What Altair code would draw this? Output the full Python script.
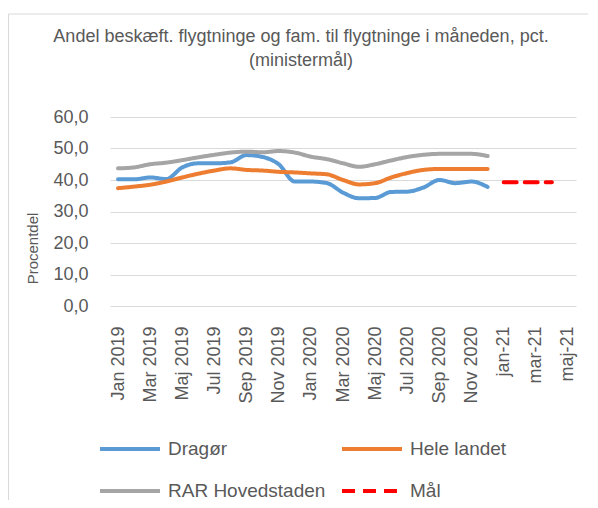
import altair as alt
import pandas as pd

months = ["Jan 2019", "Feb 2019", "Mar 2019", "Apr 2019", "Maj 2019", "Jun 2019",
          "Jul 2019", "Aug 2019", "Sep 2019", "Okt 2019", "Nov 2019", "Dec 2019",
          "Jan 2020", "Feb 2020", "Mar 2020", "Apr 2020", "Maj 2020", "Jun 2020",
          "Jul 2020", "Aug 2020", "Sep 2020", "Okt 2020", "Nov 2020", "Dec 2020",
          "jan-21", "feb-21", "mar-21", "apr-21", "maj-21"]
tick_labels = ["Jan 2019", "Mar 2019", "Maj 2019", "Jul 2019", "Sep 2019", "Nov 2019",
               "Jan 2020", "Mar 2020", "Maj 2020", "Jul 2020", "Sep 2020", "Nov 2020",
               "jan-21", "mar-21", "maj-21"]

dragor = [40.2, 40.2, 40.8, 40.3, 44.0, 45.3, 45.3, 45.6, 47.9, 47.3, 45.0, 39.5,
          39.5, 39.0, 36.0, 34.2, 34.3, 36.2, 36.3, 37.6, 40.0, 39.0, 39.5, 37.8]
hele_landet = [37.4, 37.9, 38.5, 39.5, 40.8, 42.0, 43.0, 43.7, 43.2, 43.0, 42.6, 42.4,
               42.1, 41.8, 40.0, 38.6, 39.0, 40.8, 42.2, 43.2, 43.5, 43.5, 43.5, 43.5]
rar_hovedstaden = [43.7, 44.0, 45.0, 45.5, 46.3, 47.2, 48.0, 48.7, 49.0, 48.8, 49.2, 48.7,
                   47.4, 46.6, 45.3, 44.2, 45.0, 46.2, 47.3, 48.0, 48.3, 48.3, 48.3, 47.6]
maal_months = ["jan-21", "feb-21", "mar-21", "apr-21"]
maal = [39.3, 39.3, 39.3, 39.3]

series_names = ["Dragør", "Hele landet", "RAR Hovedstaden", "Mål"]
series_colors = ["#5B9BD5", "#ED7D31", "#A5A5A5", "#FF0000"]
series_dash = [[1, 0], [1, 0], [1, 0], [13, 8]]

rows = []
for name, vals in [("Dragør", dragor), ("Hele landet", hele_landet),
                   ("RAR Hovedstaden", rar_hovedstaden)]:
    for m, v in zip(months[:24], vals):
        rows.append({"serie": name, "maaned": m, "pct": v})
for m, v in zip(maal_months, maal):
    rows.append({"serie": "Mål", "maaned": m, "pct": v})
df = pd.DataFrame(rows)

FONT = "Liberation Sans"
GREY = "#595959"

legend_opts = dict(title=None, orient="none", legendX=-12, legendY=300,
                   direction="horizontal", columns=2, columnPadding=8, rowPadding=-23,
                   symbolType="stroke", symbolSize=3600, symbolStrokeWidth=4,
                   labelFont=FONT, labelFontSize=19, labelColor=GREY, labelOffset=6)

lines = alt.Chart(df).mark_line(strokeWidth=4, interpolate="monotone",
                                strokeCap="round").encode(
    x=alt.X("maaned:O", sort=months,
            scale=alt.Scale(domain=months, type="point", padding=0.5),
            axis=alt.Axis(title=None, values=tick_labels, labelAngle=-90,
                          labelAlign="right", labelBaseline="middle",
                          ticks=False, domain=False, grid=False,
                          labelPadding=20, labelFontSize=18, labelFont=FONT,
                          labelColor=GREY)),
    y=alt.Y("pct:Q", scale=alt.Scale(domain=[0, 60], nice=False),
            axis=alt.Axis(title="Procentdel", values=[0, 10, 20, 30, 40, 50, 60],
                          labelExpr="replace(format(datum.value, '.1f'), '.', ',')",
                          ticks=False, domain=False, grid=True, gridColor="#D9D9D9",
                          labelPadding=22, labelFontSize=18, labelFont=FONT,
                          labelColor=GREY, titleFont=FONT, titleFontSize=15,
                          titleFontWeight="normal", titleColor=GREY,
                          titleX=-78, titleY=131, titleAngle=270,
                          titleAlign="center", titleBaseline="middle")),
    color=alt.Color("serie:N", scale=alt.Scale(domain=series_names, range=series_colors),
                    legend=alt.Legend(**legend_opts)),
    strokeDash=alt.StrokeDash("serie:N",
                              scale=alt.Scale(domain=series_names, range=series_dash),
                              legend=alt.Legend(**legend_opts)),
    detail="serie:N",
)

border_df = pd.DataFrame({"k": [0]})
border_left = alt.Chart(border_df).mark_rule(color="#D9D9D9", strokeWidth=1).encode(
    x=alt.value(-101.5), y=alt.value(-103), y2=alt.value(400))
border_top = alt.Chart(border_df).mark_rule(color="#D9D9D9", strokeWidth=1).encode(
    x=alt.value(-101.5), x2=alt.value(480), y=alt.value(-103))

chart = alt.layer(border_left, border_top, lines).properties(
    width=466, height=189,
    autosize=alt.AutoSizeParams(type="none"),
    padding={"left": 102, "top": 109, "right": 12, "bottom": 194},
    title=alt.TitleParams(
        text=["Andel beskæft. flygtninge og fam. til flygtninge i måneden, pct.",
              "(ministermål)"],
        font=FONT, fontSize=18, fontWeight="normal", color=GREY,
        anchor="middle", dx=-42, offset=-56, lineHeight=24),
).configure_view(stroke=None)

chart.save("out.html", embed_options={"renderer": "svg", "actions": False})
